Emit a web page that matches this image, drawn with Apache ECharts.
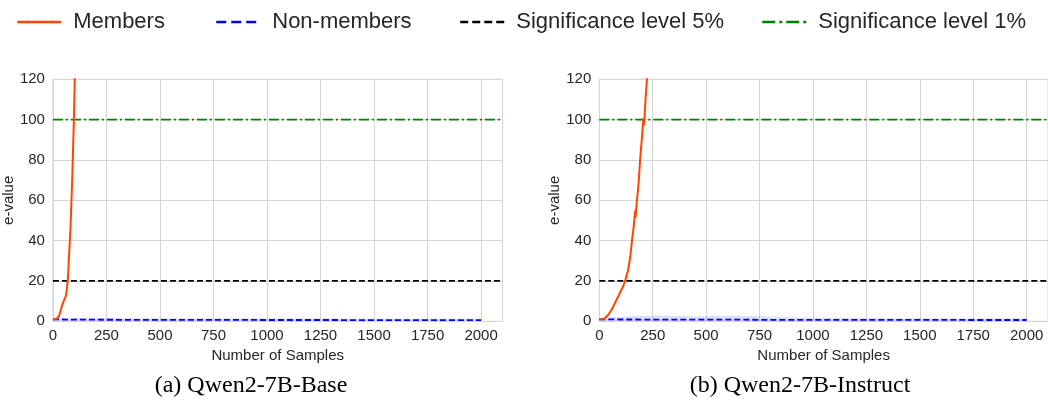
<!DOCTYPE html>
<html>
<head>
<meta charset="utf-8">
<script src="https://cdn.jsdelivr.net/npm/echarts@6/dist/echarts.min.js"></script>
<style>
  html, body { margin: 0; padding: 0; background: #ffffff; }
  #chart { width: 1048px; height: 405px; }
</style>
</head>
<body>
<div id="chart"></div>
<script>
// ---- data ----
const xLimits = [0, 2100];
const xTickStep = 250;
const yLimits = [0, 120];
const yTickStep = 20;
const significance5 = 20;   // e-value threshold for 5% level
const significance1 = 100;  // e-value threshold for 1% level

const panelTitles = ['(a) Qwen2-7B-Base', '(b) Qwen2-7B-Instruct'];

// Qwen2-7B-Base: member e-values
const baseMemberX = [0, 15, 22, 28, 35, 42, 50, 56, 60, 62, 64, 67, 70, 74, 78, 82, 86, 90, 94, 98, 102, 106, 110];
const baseMemberY = [1, 1, 1.2, 2.5, 5, 7.5, 10, 11.5, 12.5, 13, 15, 18, 21, 30, 38, 46, 58, 70, 85, 100, 120, 140, 160];

// Qwen2-7B-Base: non-member e-values with band
const baseNonX  = [0, 25, 50, 100, 200, 300, 500, 750, 1000, 1250, 1500, 1750, 2000];
const baseNonY  = [1, 0.95, 0.9, 0.85, 0.8, 0.75, 0.7, 0.7, 0.65, 0.65, 0.6, 0.6, 0.6];
const baseNonLo = [0.3, 0.2, 0.15, 0.1, 0.1, 0.1, 0.1, 0.1, 0.1, 0.1, 0.1, 0.1, 0.1];
const baseNonHi = [1.6, 1.7, 1.7, 1.7, 1.6, 1.6, 1.5, 1.5, 1.4, 1.4, 1.3, 1.3, 1.3];

// Qwen2-7B-Instruct: member e-values
const instMemberX = [0, 20, 28, 40, 57, 73, 96, 110, 121, 135, 145, 153, 161, 168, 170, 172, 178, 184, 192, 201, 206, 208, 210, 212, 217, 223, 230];
const instMemberY = [1, 1, 1.1, 3, 5.6, 9, 14, 17, 20, 25.5, 32, 40, 47, 55, 51.5, 55, 62, 68.5, 81.5, 93, 100.5, 97, 99, 101.5, 111, 120, 135];

// Qwen2-7B-Instruct: non-member e-values with band
const instNonX  = [0, 25, 50, 100, 150, 250, 350, 450, 550, 650, 750, 850, 1000, 1250, 1500, 1750, 2000];
const instNonY  = [1, 1, 0.95, 0.9, 0.9, 0.85, 0.85, 0.8, 0.8, 0.8, 0.75, 0.75, 0.7, 0.7, 0.7, 0.65, 0.65];
const instNonLo = [0.3, 0.2, 0.15, 0.1, 0.1, 0.1, 0.1, 0.1, 0.1, 0.1, 0.1, 0.1, 0.1, 0.1, 0.1, 0.1, 0.1];
const instNonHi = [1.6, 1.8, 2.0, 2.3, 2.6, 2.9, 2.8, 2.4, 2.6, 2.7, 2.5, 2.1, 1.7, 1.6, 1.5, 1.5, 1.4];

// ---- styles ----
const TEXT = '#262626';
const GRIDLINE = '#d5d5d5';
const C_MEMBER = '#ff4500';
const C_NON = '#0000ff';
const C_SIG5 = '#000000';
const C_SIG1 = '#008000';
const SANS = '"Liberation Sans", Arial, Helvetica, sans-serif';
const SERIF = '"Liberation Serif", "Times New Roman", serif';

const zip = (xs, ys) => xs.map((x, i) => [x, ys[i]]);

const grids = [
  { left: 50.7, top: 79.3, width: 451.8, height: 242 },
  { left: 599.3, top: 79.3, width: 452.3, height: 242 }
];

function xAxisFor(i) {
  return {
    gridIndex: i, type: 'value', min: xLimits[0], max: xLimits[1], interval: xTickStep,
    name: 'Number of Samples', nameLocation: 'middle', nameGap: 23,
    nameTextStyle: { color: TEXT, fontSize: 15, fontFamily: SANS },
    axisLine: { show: false }, axisTick: { show: false },
    axisLabel: { color: TEXT, fontSize: 15, fontFamily: SANS, margin: 7, showMaxLabel: false,
                 formatter: v => String(v) },
    splitLine: { show: true, lineStyle: { color: GRIDLINE, width: 1 } }
  };
}
function yAxisFor(i) {
  return {
    gridIndex: i, type: 'value', min: yLimits[0], max: yLimits[1], interval: yTickStep,
    name: 'e-value', nameLocation: 'middle', nameGap: 36, nameRotate: 90,
    nameTextStyle: { color: TEXT, fontSize: 15, fontFamily: SANS },
    axisLine: { show: false }, axisTick: { show: false },
    axisLabel: { color: TEXT, fontSize: 15, fontFamily: SANS, margin: 8 },
    splitLine: { show: true, lineStyle: { color: GRIDLINE, width: 1 } }
  };
}

// shaded spread around the non-member curve, drawn as one polygon
function bandSeries(i, xs, lo, hi) {
  return {
    type: 'custom', name: 'band' + i, xAxisIndex: i, yAxisIndex: i, silent: true, z: 1,
    data: xs.map((x, k) => [x, lo[k], hi[k]]),
    renderItem: function (params, api) {
      if (params.dataIndex !== 0) return null;
      const pts = [];
      for (let k = 0; k < xs.length; k++) pts.push(api.coord([xs[k], hi[k]]));
      for (let k = xs.length - 1; k >= 0; k--) pts.push(api.coord([xs[k], lo[k]]));
      return { type: 'polygon', shape: { points: pts }, style: { fill: 'rgba(0,0,255,0.13)' } };
    }
  };
}

function panelSeries(i, memX, memY, nonX, nonY, nonLo, nonHi) {
  return [
    bandSeries(i, nonX, nonLo, nonHi),
    {
      type: 'line', name: 'Non-members', xAxisIndex: i, yAxisIndex: i, symbol: 'none', z: 3,
      data: zip(nonX, nonY), lineStyle: { color: C_NON, width: 1.8, type: [6, 3] }, itemStyle: { color: C_NON }
    },
    {
      type: 'line', name: 'Significance level 5%', xAxisIndex: i, yAxisIndex: i, symbol: 'none', z: 3,
      data: [[xLimits[0], significance5], [xLimits[1], significance5]],
      lineStyle: { color: C_SIG5, width: 1.8, type: [6, 3] }, itemStyle: { color: C_SIG5 }
    },
    {
      type: 'line', name: 'Significance level 1%', xAxisIndex: i, yAxisIndex: i, symbol: 'none', z: 3,
      data: [[xLimits[0], significance1], [xLimits[1], significance1]],
      lineStyle: { color: C_SIG1, width: 1.6, type: [10, 3, 2, 3] }, itemStyle: { color: C_SIG1 }
    },
    {
      type: 'line', name: 'Members', xAxisIndex: i, yAxisIndex: i, symbol: 'none', z: 4, clip: true,
      data: zip(memX, memY), lineStyle: { color: C_MEMBER, width: 2 }, itemStyle: { color: C_MEMBER }
    }
  ];
}

// one legend entry per block so each sits where it belongs on the top row;
// the marker dot is hidden so only the line sample shows
function legendEntry(name, left, lineStyle) {
  return {
    data: [name], left: left, top: 6, orient: 'horizontal', selectedMode: false,
    itemWidth: 44, itemHeight: 22,
    itemStyle: { opacity: 0, borderWidth: 0 },
    lineStyle: Object.assign({ opacity: 1 }, lineStyle),
    textStyle: { color: TEXT, fontSize: 22, fontFamily: SANS, padding: [0, 0, 0, 7] }
  };
}

const option = {
  animation: false,
  backgroundColor: '#ffffff',
  grid: grids.map(g => Object.assign({ show: true, borderColor: GRIDLINE, borderWidth: 1, backgroundColor: 'transparent' }, g)),
  xAxis: [xAxisFor(0), xAxisFor(1)],
  yAxis: [yAxisFor(0), yAxisFor(1)],
  legend: [
    legendEntry('Members', 11, { width: 2.5, type: 'solid' }),
    legendEntry('Non-members', 210, { width: 2.5, type: [10, 5] }),
    legendEntry('Significance level 5%', 454, { width: 2.5, type: [8, 4] }),
    legendEntry('Significance level 1%', 756, { width: 2.5, type: [13, 4, 3, 4] })
  ],
  graphic: [
    { type: 'text', x: 251, y: 386, style: { text: panelTitles[0], fill: '#000', font: '24px ' + SERIF, textAlign: 'center', textVerticalAlign: 'middle' } },
    { type: 'text', x: 800, y: 386, style: { text: panelTitles[1], fill: '#000', font: '24px ' + SERIF, textAlign: 'center', textVerticalAlign: 'middle' } }
  ],
  series: [].concat(
    panelSeries(0, baseMemberX, baseMemberY, baseNonX, baseNonY, baseNonLo, baseNonHi),
    panelSeries(1, instMemberX, instMemberY, instNonX, instNonY, instNonLo, instNonHi)
  )
};

const chart = echarts.init(document.getElementById('chart'), null, { renderer: 'canvas' });
chart.setOption(option);
</script>
</body>
</html>
